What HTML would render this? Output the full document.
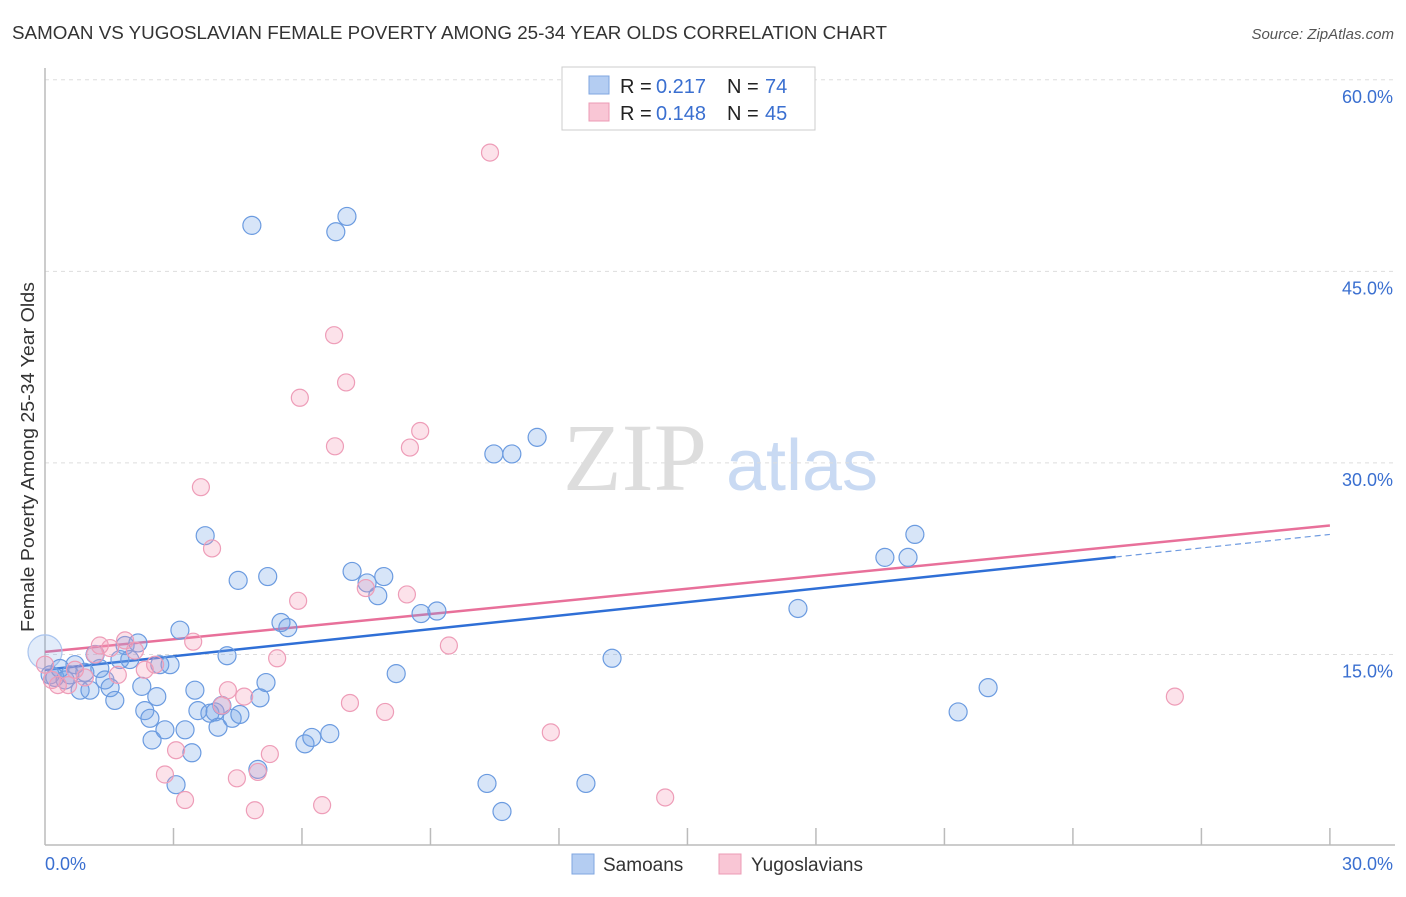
<!DOCTYPE html>
<html><head><meta charset="utf-8"><style>
body{margin:0;background:#fff;font-family:"Liberation Sans",sans-serif}
</style></head><body>
<svg id="chart" width="1406" height="892" xmlns="http://www.w3.org/2000/svg" font-family="Liberation Sans, sans-serif">
<text x="12" y="39" font-size="18" fill="#333" textLength="875" lengthAdjust="spacingAndGlyphs">SAMOAN VS YUGOSLAVIAN FEMALE POVERTY AMONG 25-34 YEAR OLDS CORRELATION CHART</text>
<text x="1394" y="39" font-size="15" fill="#555" font-style="italic" text-anchor="end">Source: ZipAtlas.com</text>
<text x="34" y="457" font-size="18" fill="#333" text-anchor="middle" textLength="350" lengthAdjust="spacingAndGlyphs" transform="rotate(-90 34 457)">Female Poverty Among 25-34 Year Olds</text>
<g><text x="635" y="490" font-size="96" fill="#ddd" font-family="Liberation Serif, serif" text-anchor="middle">ZIP</text><text x="802" y="490" font-size="72" fill="#c9daf3" text-anchor="middle">atlas</text></g>
<g id="grid"></g><g id="axes"></g><g id="trends"></g><g id="pts"></g>
<g>
<rect x="562" y="67" width="253" height="63" fill="#fff" stroke="#ccc"/>
<rect x="589" y="76" width="20" height="18" fill="#b4cdf2" stroke="#7fa6e0"/>
<rect x="589" y="103" width="20" height="18" fill="#f9c6d5" stroke="#ec9bb5"/>
<text x="620" y="93" font-size="20" fill="#222">R = </text><text x="656" y="93" font-size="20" fill="#3a6fd0">0.217</text>
<text x="727" y="93" font-size="20" fill="#222">N = </text><text x="765" y="93" font-size="20" fill="#3a6fd0">74</text>
<text x="620" y="120" font-size="20" fill="#222">R = </text><text x="656" y="120" font-size="20" fill="#3a6fd0">0.148</text>
<text x="727" y="120" font-size="20" fill="#222">N = </text><text x="765" y="120" font-size="20" fill="#3a6fd0">45</text>
</g>
<g>
<rect x="572" y="854" width="22" height="20" fill="#b4cdf2" stroke="#7fa6e0"/>
<text x="603" y="871" font-size="19" fill="#333">Samoans</text>
<rect x="719" y="854" width="22" height="20" fill="#f9c6d5" stroke="#ec9bb5"/>
<text x="751" y="871" font-size="19" fill="#333">Yugoslavians</text>
</g>
</svg>
<script>
const yTicks=[15,30,45,60];
const yTickLabels=["15.0%","30.0%","45.0%","60.0%"];
const xTickLabels=["0.0%","30.0%"];
const samoanX=[0,0.12,0.23,0.35,0.47,0.58,0.70,0.82,0.93,1.05,1.17,1.28,1.40,1.52,1.63,1.75,1.87,1.98,2.17,2.26,2.33,2.45,2.50,2.61,2.68,2.80,2.92,3.06,3.15,3.27,3.43,3.50,3.57,3.74,3.85,3.97,4.04,4.13,4.25,4.37,4.51,4.55,4.83,4.97,5.02,5.16,5.20,5.51,5.67,6.07,6.23,6.65,6.79,7.05,7.17,7.52,7.77,7.91,8.20,8.78,9.15,10.32,10.48,10.67,10.90,11.49,12.63,13.24,17.58,19.61,20.15,20.31,21.32,22.02];
const samoanY=[15.2,13.4,13.2,13.9,13.0,13.4,14.2,12.2,13.6,12.2,15.0,13.9,13.0,12.4,11.4,14.6,15.7,14.6,15.9,12.5,10.6,10.0,8.3,11.7,14.2,9.1,14.2,4.8,16.9,9.1,7.3,12.2,10.6,24.3,10.4,10.5,9.3,11.0,14.9,10.0,20.8,10.3,48.6,6.0,11.6,12.8,21.1,17.5,17.1,8.0,8.5,8.8,48.1,49.3,21.5,20.6,19.6,21.1,13.5,18.2,18.4,4.9,30.7,2.7,30.7,32.0,4.9,14.7,18.6,22.6,22.6,24.4,10.5,12.4];
const yugoX=[0,0.16,0.30,0.54,0.70,0.93,1.17,1.28,1.52,1.70,1.87,2.10,2.33,2.57,2.80,3.06,3.27,3.46,3.64,3.90,4.13,4.27,4.48,4.65,4.90,4.97,5.25,5.42,5.91,5.95,6.47,6.75,6.77,7.03,7.12,7.49,7.94,8.45,8.52,8.76,9.43,10.39,11.81,14.48,26.38];
const yugoY=[14.2,13.0,12.6,12.6,13.8,13.2,15.0,15.7,15.5,13.4,16.1,15.3,13.8,14.2,5.6,7.5,3.6,16.0,28.1,23.3,11.0,12.2,5.3,11.7,2.8,5.8,7.2,14.7,19.2,35.1,3.2,40.0,31.3,36.3,11.2,20.2,10.5,19.7,31.2,32.5,15.7,54.3,8.9,3.8,11.7];
const samoanTrend=[13.8,24.4];
const yugoTrend=[15.2,25.1];
const NS="http://www.w3.org/2000/svg";
const X=v=>45+v*42.83, Y=v=>846-v*12.77;
function mk(tag,attrs,parent){const e=document.createElementNS(NS,tag);for(const k in attrs)e.setAttribute(k,attrs[k]);document.getElementById(parent).appendChild(e);return e;}
yTicks.forEach((t,i)=>{
  const g=mk('line',{x1:45,x2:1395,y1:Y(t),y2:Y(t),stroke:'#ddd','stroke-dasharray':'4 4'},'grid');
  
  
  const l=mk('text',{x:1393,y:Y(t)+23,'font-size':18,fill:'#3a6fd0','text-anchor':'end'},'grid');
  l.textContent=yTickLabels[i];
  
  
});
const ax=mk('line',{x1:45,x2:1395,y1:845,y2:845,stroke:'#bbb','stroke-width':1.5},'axes');


const ay=mk('line',{x1:45,x2:45,y1:68,y2:845,stroke:'#bbb','stroke-width':1.5},'axes');


for(let i=1;i<=10;i++){const t=mk('line',{x1:X(i*3),x2:X(i*3),y1:828,y2:845,stroke:'#bbb','stroke-width':1.5},'axes');

}
const xl0=mk('text',{x:45,y:870,'font-size':18,fill:'#3a6fd0'},'axes');xl0.textContent=xTickLabels[0];


const xl1=mk('text',{x:1393,y:870,'font-size':18,fill:'#3a6fd0','text-anchor':'end'},'axes');xl1.textContent=xTickLabels[1];


const tb=t=>samoanTrend[0]+(samoanTrend[1]-samoanTrend[0])*t/30;
const ty=t=>yugoTrend[0]+(yugoTrend[1]-yugoTrend[0])*t/30;
let e=mk('line',{x1:X(0),y1:Y(tb(0)),x2:X(25),y2:Y(tb(25)),stroke:'#2f6fd6','stroke-width':2.5},'trends');


e=mk('line',{x1:X(25),y1:Y(tb(25)),x2:X(30),y2:Y(tb(30)),stroke:'#6f9be0','stroke-width':1.2,'stroke-dasharray':'6 4'},'trends');


e=mk('line',{x1:X(0),y1:Y(ty(0)),x2:X(30),y2:Y(ty(30)),stroke:'#e8709a','stroke-width':2.5},'trends');


samoanX.forEach((v,i)=>{const c=mk('circle',{cx:X(v),cy:Y(samoanY[i]),r:i==0?17:9,fill:i==0?'rgba(110,160,230,0.2)':'rgba(110,160,230,0.28)',stroke:i==0?'#a9c4ee':'#6b9be0','stroke-width':1.2},'pts');

});
yugoX.forEach((v,i)=>{const c=mk('circle',{cx:X(v),cy:Y(yugoY[i]),r:8.5,fill:'rgba(245,150,180,0.28)',stroke:'#ee9db8','stroke-width':1.2},'pts');

});
</script>
</body></html>
